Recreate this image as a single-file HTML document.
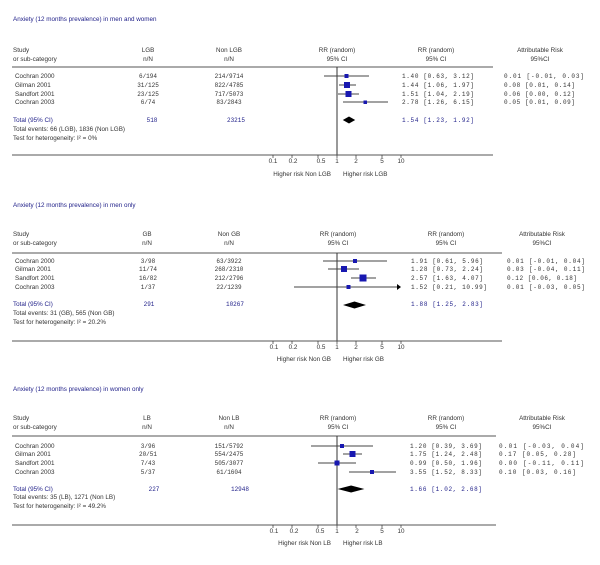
<!DOCTYPE html>
<html><head><meta charset="utf-8"><style>
html,body{margin:0;padding:0;background:#fff;}
svg{display:block;}
.t{font-family:"Liberation Sans",sans-serif;font-size:6.3px;fill:#333;}
.m{font-family:"Liberation Mono",monospace;font-size:6px;fill:#333;}
.b{fill:#22228a;}
</style></head><body>
<svg width="600" height="565" viewBox="0 0 600 565" xmlns="http://www.w3.org/2000/svg">
<!-- PANEL 1 -->
<g>
<text class="t b" x="13" y="21">Anxiety  (12 months prevalence) in men and women</text>
<text class="t" x="13" y="52">Study</text><text class="t" x="13" y="61">or sub-category</text>
<text class="t" x="148" y="52" text-anchor="middle">LGB</text><text class="t" x="148" y="61" text-anchor="middle">n/N</text>
<text class="t" x="229" y="52" text-anchor="middle">Non LGB</text><text class="t" x="229" y="61" text-anchor="middle">n/N</text>
<text class="t" x="337" y="52" text-anchor="middle">RR (random)</text><text class="t" x="337" y="61" text-anchor="middle">95% CI</text>
<text class="t" x="436" y="52" text-anchor="middle">RR (random)</text><text class="t" x="436" y="61" text-anchor="middle">95% CI</text>
<text class="t" x="540" y="52" text-anchor="middle">Attributable Risk</text><text class="t" x="540" y="61" text-anchor="middle">95%CI</text>
<line x1="12" y1="67" x2="493" y2="67" stroke="#555" stroke-width="1"/>
<line x1="337" y1="67" x2="337" y2="155" stroke="#333" stroke-width="1"/>
<line x1="12" y1="155" x2="493" y2="155" stroke="#555" stroke-width="1"/>
<text class="t" x="15" y="78">Cochran 2000</text><text class="t" x="15" y="87">Gilman 2001</text><text class="t" x="15" y="96">Sandfort 2001</text><text class="t" x="15" y="104">Cochran 2003</text>
<text class="m" x="148" y="78" text-anchor="middle">6/194</text><text class="m" x="148" y="87" text-anchor="middle">31/125</text><text class="m" x="148" y="96" text-anchor="middle">23/125</text><text class="m" x="148" y="104" text-anchor="middle">6/74</text>
<text class="m" x="229" y="78" text-anchor="middle">214/9714</text><text class="m" x="229" y="87" text-anchor="middle">822/4785</text><text class="m" x="229" y="96" text-anchor="middle">717/5073</text><text class="m" x="229" y="104" text-anchor="middle">83/2843</text>
<text class="m" x="402" y="78" textLength="72">1.40 [0.63, 3.12]</text><text class="m" x="402" y="87" textLength="72">1.44 [1.06, 1.97]</text><text class="m" x="402" y="96" textLength="72">1.51 [1.04, 2.19]</text><text class="m" x="402" y="104" textLength="72">2.78 [1.26, 6.15]</text>
<text class="m" x="504" y="78" textLength="80">0.01 [-0.01, 0.03]</text><text class="m" x="504" y="87" textLength="71">0.08 [0.01, 0.14]</text><text class="m" x="504" y="96" textLength="71">0.06 [0.00, 0.12]</text><text class="m" x="504" y="104" textLength="71">0.05 [0.01, 0.09]</text>
<text class="t b" x="13" y="122">Total (95% CI)</text>
<text class="m b" x="152" y="122" text-anchor="middle">518</text><text class="m b" x="236" y="122" text-anchor="middle">23215</text>
<text class="m b" x="402" y="122" textLength="72">1.54 [1.23, 1.92]</text>
<text class="t" x="13" y="131">Total events: 66 (LGB), 1836 (Non LGB)</text>
<text class="t" x="13" y="140">Test for heterogeneity:  I² = 0%</text>
<g stroke="#444" stroke-width="1">
<line x1="324" y1="76" x2="369" y2="76"/><line x1="339" y1="85" x2="356" y2="85"/><line x1="338" y1="94" x2="359" y2="94"/><line x1="343" y1="102" x2="388" y2="102"/>
</g>
<g fill="#1818b0"><rect x="344.5" y="74" width="4" height="4"/><rect x="344" y="82" width="6" height="6"/><rect x="345.5" y="91" width="6" height="6"/><rect x="363.5" y="100.5" width="3.5" height="3.5"/></g>
<polygon points="342.8,120 349,116.5 355.2,120 349,123.5" fill="#000"/>
<g stroke="#333" stroke-width="0.7"><line x1="273" y1="155" x2="273" y2="158"/><line x1="292" y1="155" x2="292" y2="158"/><line x1="318" y1="155" x2="318" y2="158"/><line x1="337" y1="155" x2="337" y2="158"/><line x1="356" y1="155" x2="356" y2="158"/><line x1="382" y1="155" x2="382" y2="158"/><line x1="401" y1="155" x2="401" y2="158"/></g>
<g class="t" text-anchor="middle"><text x="273" y="163">0.1</text><text x="293" y="163">0.2</text><text x="321" y="163">0.5</text><text x="337" y="163">1</text><text x="356" y="163">2</text><text x="382" y="163">5</text><text x="401" y="163">10</text></g>
<text class="t" x="331" y="176" text-anchor="end">Higher risk Non LGB</text><text class="t" x="343" y="176">Higher risk LGB</text>
</g>
<!-- PANEL 2 -->
<g>
<text class="t b" x="13" y="207">Anxiety (12 months prevalence) in men only</text>
<text class="t" x="13" y="236">Study</text><text class="t" x="13" y="245">or sub-category</text>
<text class="t" x="147" y="236" text-anchor="middle">GB</text><text class="t" x="147" y="245" text-anchor="middle">n/N</text>
<text class="t" x="229" y="236" text-anchor="middle">Non GB</text><text class="t" x="229" y="245" text-anchor="middle">n/N</text>
<text class="t" x="338" y="236" text-anchor="middle">RR (random)</text><text class="t" x="338" y="245" text-anchor="middle">95% CI</text>
<text class="t" x="446" y="236" text-anchor="middle">RR (random)</text><text class="t" x="446" y="245" text-anchor="middle">95% CI</text>
<text class="t" x="542" y="236" text-anchor="middle">Attributable Risk</text><text class="t" x="542" y="245" text-anchor="middle">95%CI</text>
<line x1="12" y1="253" x2="502" y2="253" stroke="#555" stroke-width="1"/>
<line x1="337" y1="253" x2="337" y2="341" stroke="#333" stroke-width="1"/>
<line x1="12" y1="341" x2="502" y2="341" stroke="#555" stroke-width="1"/>
<text class="t" x="15" y="263">Cochran 2000</text><text class="t" x="15" y="271">Gilman 2001</text><text class="t" x="15" y="280">Sandfort 2001</text><text class="t" x="15" y="289">Cochran 2003</text>
<text class="m" x="148" y="263" text-anchor="middle">3/98</text><text class="m" x="148" y="271" text-anchor="middle">11/74</text><text class="m" x="148" y="280" text-anchor="middle">16/82</text><text class="m" x="148" y="289" text-anchor="middle">1/37</text>
<text class="m" x="229" y="263" text-anchor="middle">63/3922</text><text class="m" x="229" y="271" text-anchor="middle">268/2310</text><text class="m" x="229" y="280" text-anchor="middle">212/2796</text><text class="m" x="229" y="289" text-anchor="middle">22/1239</text>
<text class="m" x="411" y="263" textLength="72">1.91 [0.61, 5.96]</text><text class="m" x="411" y="271" textLength="72">1.28 [0.73, 2.24]</text><text class="m" x="411" y="280" textLength="72">2.57 [1.63, 4.07]</text><text class="m" x="411" y="289" textLength="76">1.52 [0.21, 10.99]</text>
<text class="m" x="507" y="263" textLength="78">0.01 [-0.01, 0.04]</text><text class="m" x="507" y="271" textLength="78">0.03 [-0.04, 0.11]</text><text class="m" x="507" y="280" textLength="70">0.12 [0.06, 0.18]</text><text class="m" x="507" y="289" textLength="78">0.01 [-0.03, 0.05]</text>
<text class="t b" x="13" y="306">Total (95% CI)</text>
<text class="m b" x="149" y="306" text-anchor="middle">291</text><text class="m b" x="235" y="306" text-anchor="middle">10267</text>
<text class="m b" x="411" y="306" textLength="72">1.88 [1.25, 2.83]</text>
<text class="t" x="13" y="315">Total events: 31 (GB), 565 (Non GB)</text>
<text class="t" x="13" y="324">Test for heterogeneity:  I² = 20.2%</text>
<g stroke="#444" stroke-width="1">
<line x1="323" y1="261" x2="387" y2="261"/><line x1="328" y1="269" x2="359" y2="269"/><line x1="351" y1="278" x2="376" y2="278"/><line x1="294" y1="287" x2="397" y2="287"/>
</g>
<polygon points="397,284 401,287 397,290" fill="#000"/>
<g fill="#1818b0"><rect x="353" y="259" width="4" height="4"/><rect x="341" y="266" width="6" height="6"/><rect x="359.5" y="274.5" width="7" height="7"/><rect x="346.5" y="285" width="4" height="4"/></g>
<polygon points="343,305 354.5,301.5 366,305 354.5,308.5" fill="#000"/>
<g stroke="#333" stroke-width="0.7"><line x1="273" y1="341" x2="273" y2="344"/><line x1="292" y1="341" x2="292" y2="344"/><line x1="318" y1="341" x2="318" y2="344"/><line x1="337" y1="341" x2="337" y2="344"/><line x1="356" y1="341" x2="356" y2="344"/><line x1="382" y1="341" x2="382" y2="344"/><line x1="401" y1="341" x2="401" y2="344"/></g>
<g class="t" text-anchor="middle"><text x="274" y="349">0.1</text><text x="293" y="349">0.2</text><text x="321" y="349">0.5</text><text x="337" y="349">1</text><text x="356" y="349">2</text><text x="382" y="349">5</text><text x="401" y="349">10</text></g>
<text class="t" x="331" y="361" text-anchor="end">Higher risk Non GB</text><text class="t" x="343" y="361">Higher risk GB</text>
</g>
<!-- PANEL 3 -->
<g>
<text class="t b" x="13" y="391">Anxiety (12 months prevalence) in women only</text>
<text class="t" x="13" y="420">Study</text><text class="t" x="13" y="429">or sub-category</text>
<text class="t" x="147" y="420" text-anchor="middle">LB</text><text class="t" x="147" y="429" text-anchor="middle">n/N</text>
<text class="t" x="229" y="420" text-anchor="middle">Non LB</text><text class="t" x="229" y="429" text-anchor="middle">n/N</text>
<text class="t" x="338" y="420" text-anchor="middle">RR (random)</text><text class="t" x="338" y="429" text-anchor="middle">95% CI</text>
<text class="t" x="446" y="420" text-anchor="middle">RR (random)</text><text class="t" x="446" y="429" text-anchor="middle">95% CI</text>
<text class="t" x="542" y="420" text-anchor="middle">Attributable Risk</text><text class="t" x="542" y="429" text-anchor="middle">95%CI</text>
<line x1="12" y1="436" x2="496" y2="436" stroke="#555" stroke-width="1"/>
<line x1="337" y1="436" x2="337" y2="525" stroke="#333" stroke-width="1"/>
<line x1="12" y1="525" x2="496" y2="525" stroke="#555" stroke-width="1"/>
<text class="t" x="15" y="448">Cochran 2000</text><text class="t" x="15" y="456">Gilman 2001</text><text class="t" x="15" y="465">Sandfort 2001</text><text class="t" x="15" y="474">Cochran 2003</text>
<text class="m" x="148" y="448" text-anchor="middle">3/96</text><text class="m" x="148" y="456" text-anchor="middle">20/51</text><text class="m" x="148" y="465" text-anchor="middle">7/43</text><text class="m" x="148" y="474" text-anchor="middle">5/37</text>
<text class="m" x="229" y="448" text-anchor="middle">151/5792</text><text class="m" x="229" y="456" text-anchor="middle">554/2475</text><text class="m" x="229" y="465" text-anchor="middle">505/3077</text><text class="m" x="229" y="474" text-anchor="middle">61/1604</text>
<text class="m" x="410" y="448" textLength="72">1.20 [0.39, 3.69]</text><text class="m" x="410" y="456" textLength="72">1.75 [1.24, 2.48]</text><text class="m" x="410" y="465" textLength="72">0.99 [0.50, 1.96]</text><text class="m" x="410" y="474" textLength="72">3.55 [1.52, 8.33]</text>
<text class="m" x="499" y="448" textLength="85">0.01 [-0.03, 0.04]</text><text class="m" x="499" y="456" textLength="77">0.17 [0.05, 0.28]</text><text class="m" x="499" y="465" textLength="85">0.00 [-0.11, 0.11]</text><text class="m" x="499" y="474" textLength="77">0.10 [0.03, 0.16]</text>
<text class="t b" x="13" y="491">Total (95% CI)</text>
<text class="m b" x="154" y="491" text-anchor="middle">227</text><text class="m b" x="240" y="491" text-anchor="middle">12948</text>
<text class="m b" x="410" y="491" textLength="72">1.66 [1.02, 2.68]</text>
<text class="t" x="13" y="499">Total events: 35 (LB), 1271 (Non LB)</text>
<text class="t" x="13" y="508">Test for heterogeneity:  I² = 49.2%</text>
<g stroke="#444" stroke-width="1">
<line x1="311" y1="446" x2="373" y2="446"/><line x1="343" y1="454" x2="362" y2="454"/><line x1="318" y1="463" x2="356" y2="463"/><line x1="349" y1="472" x2="396" y2="472"/>
</g>
<g fill="#1818b0"><rect x="340" y="444" width="4" height="4"/><rect x="349.5" y="451" width="6" height="6"/><rect x="334.5" y="460.5" width="5" height="5"/><rect x="370" y="470" width="4" height="4"/></g>
<polygon points="337.6,489 351.1,485.5 364.4,489 351.1,492.5" fill="#000"/>
<g stroke="#333" stroke-width="0.7"><line x1="273" y1="525" x2="273" y2="528"/><line x1="292" y1="525" x2="292" y2="528"/><line x1="318" y1="525" x2="318" y2="528"/><line x1="337" y1="525" x2="337" y2="528"/><line x1="356" y1="525" x2="356" y2="528"/><line x1="382" y1="525" x2="382" y2="528"/><line x1="401" y1="525" x2="401" y2="528"/></g>
<g class="t" text-anchor="middle"><text x="274" y="533">0.1</text><text x="294" y="533">0.2</text><text x="320" y="533">0.5</text><text x="337" y="533">1</text><text x="357" y="533">2</text><text x="382" y="533">5</text><text x="401" y="533">10</text></g>
<text class="t" x="331" y="545" text-anchor="end">Higher risk Non LB</text><text class="t" x="343" y="545">Higher risk LB</text>
</g>
</svg>
</body></html>
